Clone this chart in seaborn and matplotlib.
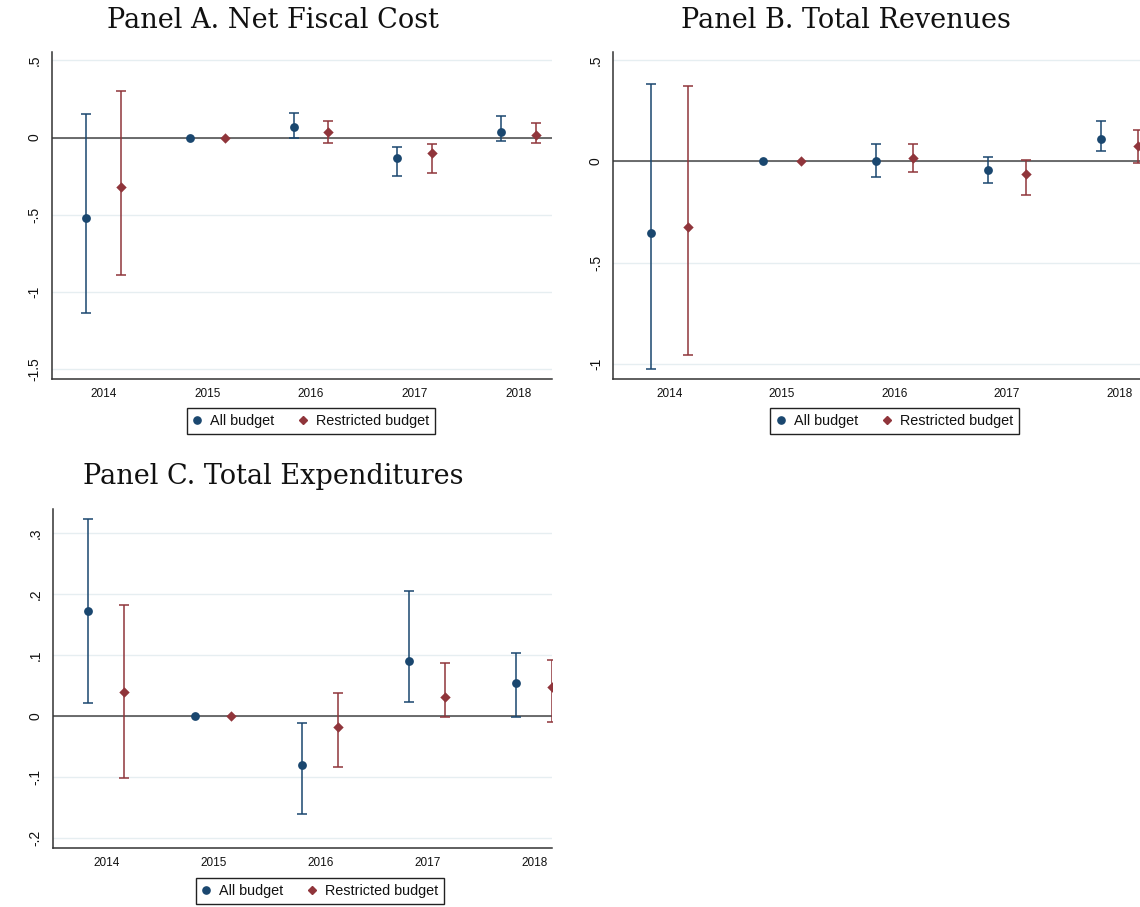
import numpy as np
import pandas as pd
import matplotlib
matplotlib.use("Agg")
import matplotlib.pyplot as plt
import seaborn as sns
from matplotlib.lines import Line2D
from matplotlib.transforms import blended_transform_factory

nan = np.nan

years = [2014, 2015, 2016, 2017, 2018]
series_names = ["All budget", "Restricted budget"]
year_ticklabels = ["2014", "2015", "2016", "2017", "2018"]

# Panel A. Net Fiscal Cost (2015 is the reference year)
a_all = [-0.523, 0.0, 0.069, -0.131, 0.039]
a_all_lo = [-1.137, nan, -0.006, -0.247, -0.021]
a_all_hi = [0.153, nan, 0.162, -0.062, 0.140]
a_res = [-0.321, 0.0, 0.037, -0.101, 0.019]
a_res_lo = [-0.891, nan, -0.036, -0.228, -0.036]
a_res_hi = [0.304, nan, 0.110, -0.039, 0.093]
a_yticks = [0.5, 0.0, -0.5, -1.0, -1.5]
a_yticklabels = [".5", "0", "-.5", "-1", "-1.5"]

# Panel B. Total Revenues
b_all = [-0.353, 0.0, 0.0, -0.041, 0.110]
b_all_lo = [-1.024, nan, -0.079, -0.109, 0.053]
b_all_hi = [0.383, nan, 0.084, 0.021, 0.199]
b_res = [-0.324, 0.0, 0.018, -0.062, 0.077]
b_res_lo = [-0.959, nan, -0.054, -0.168, -0.006]
b_res_hi = [0.373, nan, 0.086, 0.005, 0.156]
b_yticks = [0.5, 0.0, -0.5, -1.0]
b_yticklabels = [".5", "0", "-.5", "-1"]

# Panel C. Total Expenditures
c_all = [0.173, 0.0, -0.080, 0.090, 0.055]
c_all_lo = [0.021, nan, -0.160, 0.023, -0.001]
c_all_hi = [0.324, nan, -0.012, 0.205, 0.103]
c_res = [0.040, 0.0, -0.018, 0.032, 0.048]
c_res_lo = [-0.101, nan, -0.084, -0.001, -0.009]
c_res_hi = [0.183, nan, 0.038, 0.087, 0.092]
c_yticks = [0.3, 0.2, 0.1, 0.0, -0.1, -0.2]
c_yticklabels = [".3", ".2", ".1", "0", "-.1", "-.2"]

COLORS = {"All budget": "#1a476f", "Restricted budget": "#90353b"}
MARKERS = {"All budget": "o", "Restricted budget": "D"}
SIZES = {"All budget": 40, "Restricted budget": 28}
OFFSETS = {"All budget": -1 / 6, "Restricted budget": 1 / 6}
SANS = ["Liberation Sans", "DejaVu Sans"]
SERIF = ["DejaVu Serif"]


def panel_frame(all_c, all_lo, all_hi, res_c, res_lo, res_hi):
    rows = []
    for name, c, lo, hi in [
        ("All budget", all_c, all_lo, all_hi),
        ("Restricted budget", res_c, res_lo, res_hi),
    ]:
        for y, v, l, h in zip(years, c, lo, hi):
            rows.append({"year": y, "series": name, "coef": v, "lo": l, "hi": h})
    df = pd.DataFrame(rows)
    df["xpos"] = df["year"] + df["series"].map(OFFSETS)
    return df


def draw_panel(ax, df, yticks, yticklabels, xlim, ylim, legend_y):
    ax.set_xlim(*xlim)
    ax.set_ylim(*ylim)
    ax.set_axisbelow(True)
    ax.yaxis.grid(True, color="#e6eef1", linewidth=1.0)
    ax.xaxis.grid(False)
    ax.axhline(0, color="#454545", linewidth=1.1, zorder=2)

    for name in series_names:
        sub = df[df["series"] == name]
        ci = sub.dropna(subset=["lo", "hi"])
        ax.errorbar(
            ci["xpos"], ci["coef"],
            yerr=[ci["coef"] - ci["lo"], ci["hi"] - ci["coef"]],
            fmt="none", ecolor=COLORS[name], elinewidth=1.1,
            capsize=3.4, capthick=1.1, zorder=3,
        )
        sns.scatterplot(
            data=sub, x="xpos", y="coef", ax=ax, color=COLORS[name],
            marker=MARKERS[name], s=SIZES[name], linewidth=0,
            legend=False, zorder=4, clip_on=True,
        )

    ax.set_xlabel("")
    ax.set_ylabel("")
    ax.set_xticks(years)
    ax.set_xticklabels(year_ticklabels, fontsize=8.5, family=SANS, color="#111111")
    ax.set_yticks(yticks)
    ax.set_yticklabels(yticklabels, fontsize=10, family=SANS, color="#111111",
                       rotation=90, va="center")
    ax.tick_params(axis="both", direction="out", length=4.5, width=1.0,
                   color="#333333")
    ax.tick_params(axis="x", pad=2)
    ax.tick_params(axis="y", pad=3)
    for side in ["top", "right"]:
        ax.spines[side].set_visible(False)
    for side in ["left", "bottom"]:
        ax.spines[side].set_color("#333333")
        ax.spines[side].set_linewidth(1.1)

    handles = [
        Line2D([], [], linestyle="none", marker=MARKERS[n], color=COLORS[n],
               markersize=5.2 if n == "All budget" else 4.5)
        for n in series_names
    ]
    trans = blended_transform_factory(ax.transData, ax.transAxes)
    leg = ax.legend(
        handles, series_names, ncol=2, loc="upper center",
        bbox_to_anchor=(2016.0, legend_y), bbox_transform=trans,
        frameon=True, fancybox=False, framealpha=1, edgecolor="#222222",
        prop={"family": SANS, "size": 10.4}, handlelength=0.6,
        handletextpad=0.6, columnspacing=1.7, borderpad=0.4,
        borderaxespad=0,
    )
    for txt in leg.get_texts():
        txt.set_color("#111111")
    leg.get_frame().set_linewidth(1.0)
    leg.set_clip_on(False)


sns.set_theme(style="white")
plt.rcParams["font.family"] = SANS

fig = plt.figure(figsize=(11.4, 9.07), dpi=100)
W, H = 1140.0, 907.0


def add_axes(x0, y0, x1, y1):
    return fig.add_axes([x0 / W, 1 - y1 / H, (x1 - x0) / W, (y1 - y0) / H])


ax_a = add_axes(51.7, 51.7, 552.0, 379.0)
ax_b = add_axes(613.3, 51.7, 1140.0, 379.0)
ax_c = add_axes(52.7, 509.3, 552.0, 847.7)

draw_panel(ax_a, panel_frame(a_all, a_all_lo, a_all_hi, a_res, a_res_lo, a_res_hi),
           a_yticks, a_yticklabels, (2013.5, 2018.325), (-1.5627, 0.5556), -0.089)
draw_panel(ax_b, panel_frame(b_all, b_all_lo, b_all_hi, b_res, b_res_lo, b_res_hi),
           b_yticks, b_yticklabels, (2013.5, 2018.182), (-1.0755, 0.5424), -0.089)
draw_panel(ax_c, panel_frame(c_all, c_all_lo, c_all_hi, c_res, c_res_lo, c_res_hi),
           c_yticks, c_yticklabels, (2013.5, 2018.167), (-0.2159, 0.3394), -0.0895)

title_kw = dict(ha="center", va="center", fontsize=19.5, family=SERIF, color="#111111")
fig.text(273 / W, 1 - 21 / H, "Panel A. Net Fiscal Cost", **title_kw)
fig.text(846 / W, 1 - 21 / H, "Panel B. Total Revenues", **title_kw)
fig.text(273 / W, 1 - 476 / H, "Panel C. Total Expenditures", **title_kw)

fig.savefig("out.png", dpi=100, facecolor="white")
